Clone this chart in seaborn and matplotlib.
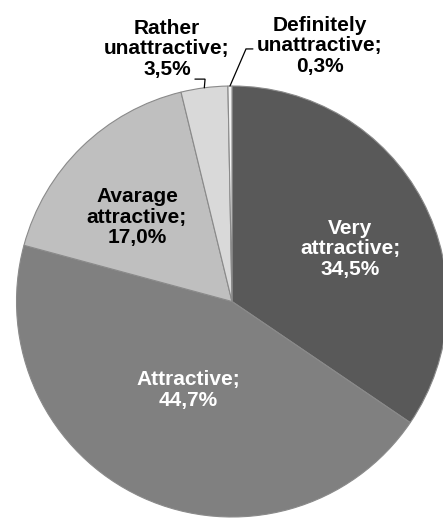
import numpy as np
import matplotlib
matplotlib.use("Agg")
import matplotlib.pyplot as plt
import seaborn as sns

# Survey answers and their shares (%)
categories = ["Very\nattractive", "Attractive", "Avarage\nattractive",
              "Rather\nunattractive", "Definitely\nunattractive"]
shares = [34.5, 44.7, 17.0, 3.5, 0.3]
share_labels = ["34,5%", "44,7%", "17,0%", "3,5%", "0,3%"]

slice_colors = ["#595959", "#808080", "#bfbfbf", "#d9d9d9", "#f2f2f2"]
text_colors = ["white", "white", "black", "black", "black"]

# label centres in axis units (pie radius = 1)
label_pos = [(0.548, 0.244), (-0.204, -0.411), (-0.441, 0.392),
             (-0.302, 1.172), (0.408, 1.186)]
# leader lines for the two thin slices: elbow and end point
leaders = {3: [(-0.125, 1.032), (-0.172, 1.032)],
           4: [(0.065, 1.172), (0.097, 1.172)]}

sns.set_theme(style="white")
plt.rcParams["font.family"] = ["Liberation Sans", "DejaVu Sans"]

W, H = 443, 519
fig = plt.figure(figsize=(W / 100, H / 100), dpi=100)
cx, cy, r = 232, 301.5, 215.5
ax = fig.add_axes([(cx - r) / W, (H - cy - r) / H, 2 * r / W, 2 * r / H])

palette = sns.color_palette(slice_colors)
wedges, _ = ax.pie(shares, colors=palette, startangle=90, counterclock=False,
                   radius=1, center=(0, 0),
                   wedgeprops=dict(edgecolor="#8a8a8a", linewidth=0.8))
for w in wedges:
    w.set_clip_on(False)
ax.set_xlim(-1, 1)
ax.set_ylim(-1, 1)
ax.set_axis_off()

total = sum(shares)
cum = 0.0
for i, (cat, lab, v) in enumerate(zip(categories, share_labels, shares)):
    mid = 90 - 360 * (cum + v / 2) / total
    cum += v
    x, y = label_pos[i]
    ax.text(x, y, cat + ";\n" + lab, ha="center", va="center", fontsize=15,
            fontweight="bold", color=text_colors[i], linespacing=1.12,
            clip_on=False)
    if i in leaders:
        a = np.deg2rad(mid)
        pts = [(np.cos(a), np.sin(a))] + leaders[i]
        xs, ys = zip(*pts)
        ax.plot(xs, ys, color="black", lw=0.9, clip_on=False,
                solid_joinstyle="miter")

fig.savefig("out.png", dpi=100)
